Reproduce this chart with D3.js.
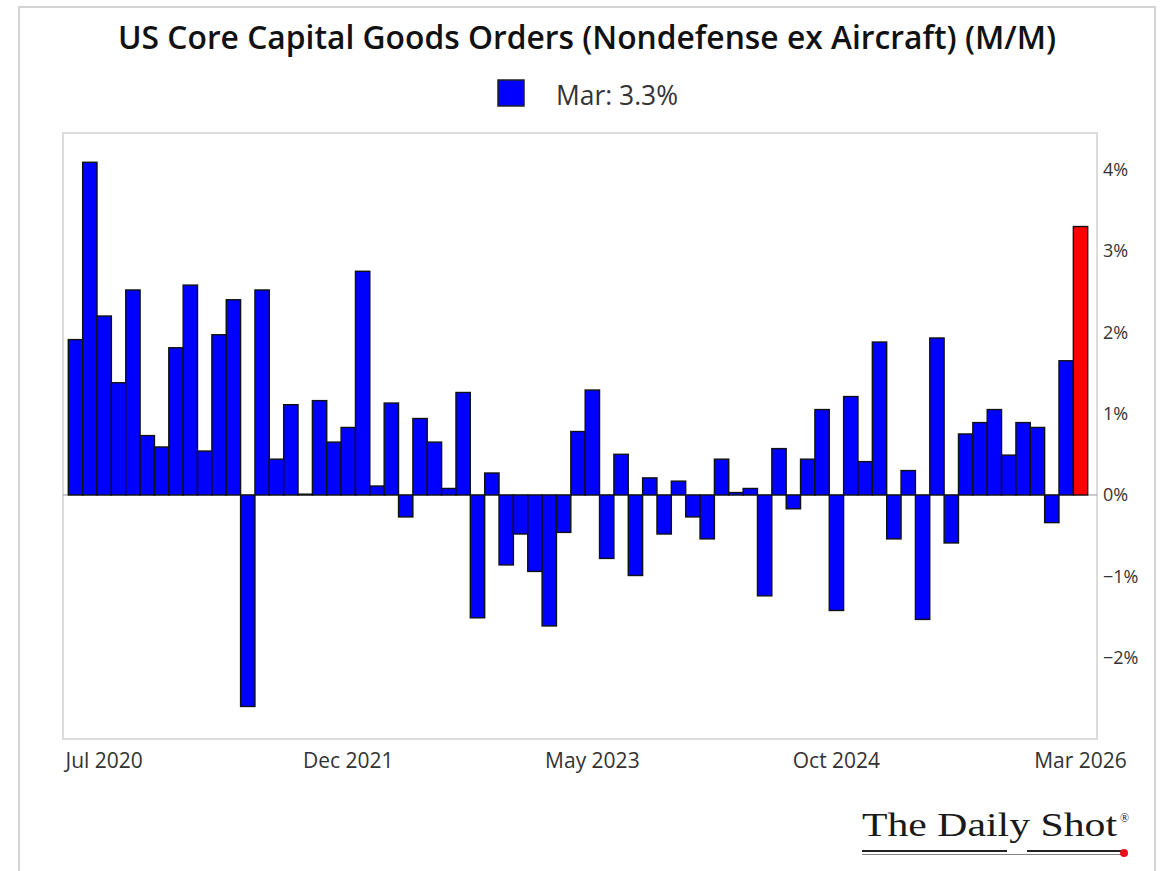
<!DOCTYPE html>
<html>
<head>
<meta charset="utf-8">
<script src="https://cdn.jsdelivr.net/npm/d3@7"></script>
<style>
    body { margin: 0; background: #fff; }
    svg { display: block; font-family: "Open Sans", sans-serif; }
</style>
</head>
<body>
<svg id="chart"></svg>
<script>
const titleText = "US Core Capital Goods Orders (Nondefense ex Aircraft) (M/M)";
const legendText = "Mar: 3.3%";

// monthly categories, May 2020 .. Mar 2026
const months = d3.timeMonth.range(new Date(2020, 4, 1), new Date(2026, 3, 1));

// m/m % change
const values = [
    1.91, 4.09, 2.20, 1.38, 2.52, 0.73, 0.59, 1.81, 2.58, 0.54,
    1.97, 2.40, -2.60, 2.52, 0.44, 1.11, 0.01, 1.16, 0.65, 0.83,
    2.75, 0.11, 1.13, -0.27, 0.94, 0.65, 0.08, 1.26, -1.51, 0.27,
    -0.86, -0.48, -0.94, -1.61, -0.46, 0.78, 1.29, -0.78, 0.50, -0.99,
    0.21, -0.48, 0.17, -0.27, -0.54, 0.44, 0.03, 0.08, -1.24, 0.57,
    -0.17, 0.44, 1.05, -1.42, 1.21, 0.41, 1.88, -0.54, 0.30, -1.53,
    1.93, -0.59, 0.75, 0.89, 1.05, 0.49, 0.89, 0.83, -0.34, 1.65,
    3.3
];

const xTickMonths = [
    new Date(2020, 6, 1), new Date(2021, 11, 1), new Date(2023, 4, 1),
    new Date(2024, 9, 1), new Date(2026, 2, 1)
];
const yTicks = [-2, -1, 0, 1, 2, 3, 4];

class BarChart {
    plot = { left: 63, top: 133, right: 1097, bottom: 739 }

    constructor(svg, width = 1163, height = 871) {
        this.svg = d3.select(svg);
        this.width = width;
        this.height = height;
    }

    initialize() {
        this.svg.attr("width", this.width).attr("height", this.height);

        // outer card frame
        this.svg.append("rect")
            .attr("x", 19).attr("y", 7)
            .attr("width", 1136).attr("height", 900)
            .attr("fill", "none")
            .attr("stroke", "#d3d3d3")
            .attr("stroke-width", 2);

        this.svg.append("rect")
            .attr("x", this.plot.left).attr("y", this.plot.top)
            .attr("width", this.plot.right - this.plot.left)
            .attr("height", this.plot.bottom - this.plot.top)
            .attr("fill", "none")
            .attr("stroke", "#dcdcdc")
            .attr("stroke-width", 2);

        this.xScale = d3.scaleBand()
            .domain(months.map(d => +d))
            .range([68.3, 1087.7])
            .padding(0);
        this.yScale = d3.scaleLinear()
            .domain([-3, 4.45])
            .range([this.plot.bottom, this.plot.top]);
    }

    update() {
        const x = this.xScale, y = this.yScale;
        const data = months.map((m, i) => ({ month: m, value: values[i] }));

        this.svg.append("line")
            .attr("x1", this.plot.left).attr("x2", this.plot.right)
            .attr("y1", y(0)).attr("y2", y(0))
            .attr("stroke", "#9a9a9a")
            .attr("stroke-width", 1);

        this.svg.append("g")
            .selectAll("rect")
            .data(data)
            .join("rect")
            .attr("x", d => x(+d.month))
            .attr("width", x.bandwidth())
            .attr("y", d => y(Math.max(0, d.value)))
            .attr("height", d => Math.abs(y(d.value) - y(0)))
            .attr("fill", (d, i) => i === data.length - 1 ? "#ff0000" : "#0000ff")
            .attr("stroke", "#111")
            .attr("stroke-width", 1.4);

        const xAxis = this.svg.append("g")
            .attr("transform", `translate(0, ${this.plot.bottom + 11})`)
            .call(d3.axisBottom(x)
                .tickValues(xTickMonths.map(d => +d))
                .tickFormat(d => d3.timeFormat("%b %Y")(new Date(d)))
                .tickSize(0));
        xAxis.select(".domain").remove();
        xAxis.selectAll("text")
            .attr("dy", "0.71em")
            .attr("font-family", "Open Sans")
            .attr("font-size", 21)
            .attr("fill", "#333");

        const yAxis = this.svg.append("g")
            .attr("transform", `translate(${this.plot.right}, 0)`)
            .call(d3.axisRight(y)
                .tickValues(yTicks)
                .tickFormat(d => (d < 0 ? "\u2212" : "") + Math.abs(d) + "%")
                .tickSize(0)
                .tickPadding(6));
        yAxis.select(".domain").remove();
        yAxis.selectAll("text")
            .attr("font-family", "Open Sans")
            .attr("font-size", 18)
            .attr("fill", "#333");

        // title and legend
        this.svg.append("text")
            .attr("x", 587).attr("y", 49)
            .attr("text-anchor", "middle")
            .attr("font-size", 33)
            .attr("font-weight", 600)
            .attr("fill", "#111")
            .attr("textLength", 938)
            .attr("lengthAdjust", "spacingAndGlyphs")
            .text(titleText);

        this.svg.append("rect")
            .attr("x", 498).attr("y", 80)
            .attr("width", 26).attr("height", 26)
            .attr("fill", "#0000ff")
            .attr("stroke", "#222")
            .attr("stroke-width", 1.5);
        this.svg.append("text")
            .attr("x", 556).attr("y", 105)
            .attr("font-size", 27)
            .attr("fill", "#333")
            .attr("textLength", 122)
            .attr("lengthAdjust", "spacingAndGlyphs")
            .text(legendText);

        // logo
        const logo = this.svg.append("g");
        logo.append("text")
            .attr("x", 862).attr("y", 836)
            .attr("font-family", "Liberation Serif")
            .attr("font-size", 33)
            .attr("fill", "#1a1a1a")
            .attr("textLength", 255)
            .attr("lengthAdjust", "spacingAndGlyphs")
            .text("The Daily Shot");
        logo.append("text")
            .attr("x", 1120).attr("y", 822)
            .attr("font-family", "Liberation Serif")
            .attr("font-size", 12)
            .attr("fill", "#1a1a1a")
            .text("\u00ae");
        logo.append("line")
            .attr("x1", 862).attr("x2", 1007).attr("y1", 851).attr("y2", 851)
            .attr("stroke", "#222").attr("stroke-width", 2);
        logo.append("line")
            .attr("x1", 1027).attr("x2", 1123).attr("y1", 851).attr("y2", 851)
            .attr("stroke", "#222").attr("stroke-width", 2);
        logo.append("line")
            .attr("x1", 862).attr("x2", 1123).attr("y1", 854.5).attr("y2", 854.5)
            .attr("stroke", "#666").attr("stroke-width", 0.8);
        logo.append("circle")
            .attr("cx", 1124).attr("cy", 853).attr("r", 4)
            .attr("fill", "#e8101a");
    }
}

const chart = new BarChart("#chart");
chart.initialize();
chart.update();
</script>
</body>
</html>
